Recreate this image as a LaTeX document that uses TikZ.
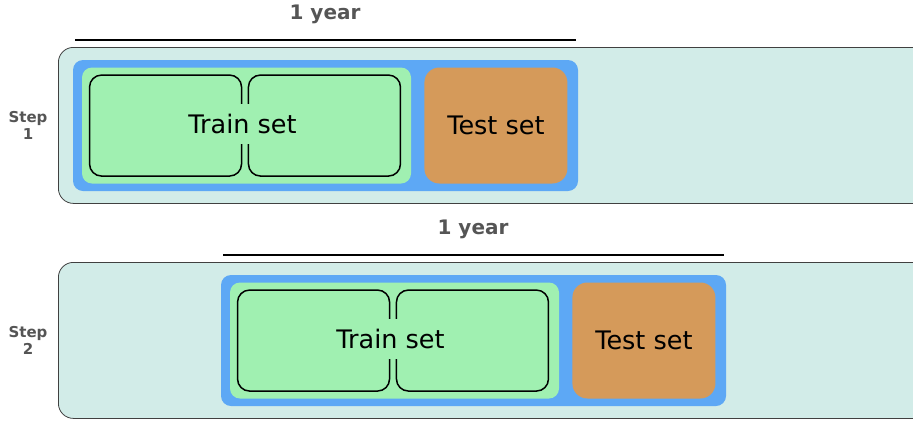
\documentclass[tikz,border=0pt]{standalone}
\usepackage{fontspec}
\setmainfont{DejaVu Sans}
\usetikzlibrary{positioning}
\definecolor{panelteal}{RGB}{210,236,232}
\definecolor{winblue}{RGB}{93,168,245}
\definecolor{traingreen}{RGB}{160,240,177}
\definecolor{testorange}{RGB}{213,154,90}
\definecolor{labelgray}{RGB}{85,85,85}

\begin{document}
\begin{tikzpicture}[x=1pt,y=-1pt,
        panel/.style={draw=black!75,line width=0.8pt,fill=panelteal,rounded corners=15pt,
            minimum width=870pt,minimum height=156pt,inner sep=0},
        window/.style={fill=winblue,rounded corners=10pt,minimum width=505pt,minimum height=131pt,inner sep=0},
        trainbox/.style={fill=traingreen,rounded corners=10pt,minimum width=329pt,minimum height=116pt,inner sep=0},
        fold/.style={draw,line width=1.5pt,rounded corners=12pt,minimum width=152pt,minimum height=101pt,inner sep=0},
        testbox/.style={fill=testorange,rounded corners=15pt,minimum width=143pt,minimum height=116pt,inner sep=0,
            font=\fontsize{25.5}{30}\selectfont},
        setlabel/.style={fill=traingreen,inner xsep=6pt,inner ysep=10pt,font=\fontsize{25.5}{30}\selectfont},
        yearlabel/.style={text=labelgray,font=\bfseries\fontsize{20}{24}\selectfont},
        steplabel/.style={text=labelgray,align=center,font=\bfseries\fontsize{15}{17}\selectfont}]
    \useasboundingbox (0,0) rectangle (913,421);
    \clip (0,0) rectangle (913,421);
    \foreach \s/\dx/\dy in {1/0/0,2/148/215}{
        % one step of the sliding window
        \node[panel,anchor=north west] (panel\s) at (58,47+\dy) {};
        \node[steplabel] (step\s) at (28,125+\dy) {Step\\\s};
        \node[window] (win\s) at (325.5+\dx,125.5+\dy) {};
        \node[trainbox,anchor=west] (train\s) at ([xshift=9pt]win\s.west) {};
        \node[fold,anchor=north west] (folda\s) at ([shift={(7pt,-7pt)}]train\s.north west) {};
        \node[fold,anchor=north east] (foldb\s) at ([shift={(-10pt,-7pt)}]train\s.north east) {};
        \node[setlabel] (trainlbl\s) at ([shift={(-4pt,1.5pt)}]train\s.center) {Train set};
        \node[testbox,right=13pt of train\s] (test\s) {Test set};
        \node[yearlabel] (year\s) at (325+\dx,14+\dy) {1 year};
        \coordinate (ystart\s) at (75+\dx,40+\dy);
        \coordinate (yend\s) at (576+\dx,40+\dy);
        \draw[line width=2pt] (ystart\s) -- (yend\s);
    }
\end{tikzpicture}
\end{document}
